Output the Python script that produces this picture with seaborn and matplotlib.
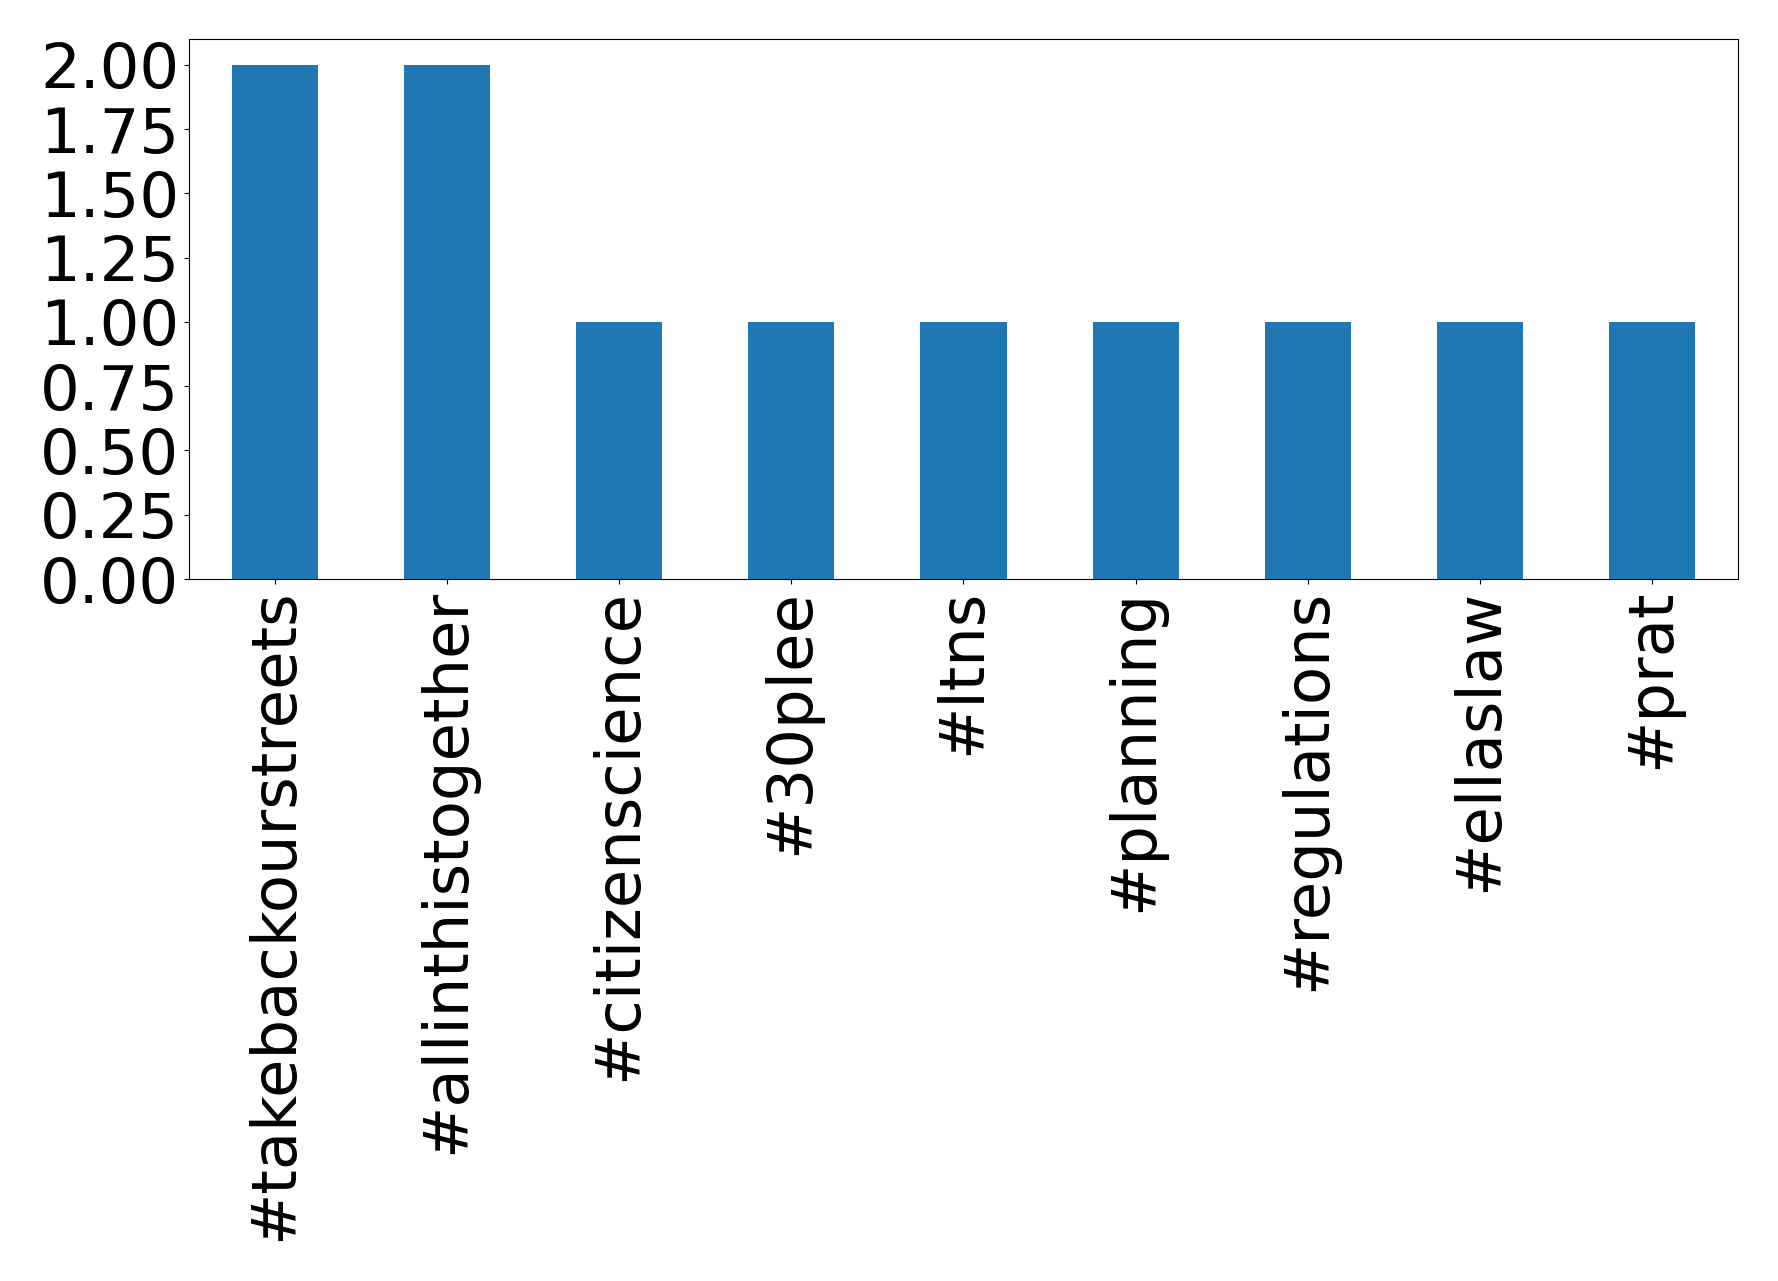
import pandas as pd
import seaborn as sns
import matplotlib.pyplot as plt

# %% data
hashtags = ['#takebackourstreets', '#allinthistogether', '#citizenscience', '#30plee',
            '#ltns', '#planning', '#regulations', '#ellaslaw', '#prat']
counts = [2, 2, 1, 1, 1, 1, 1, 1, 1]

df = pd.DataFrame({'hashtag': hashtags, 'count': counts})

# %% plot
fig = plt.figure(figsize=(17.78, 12.81), dpi=100)
ax = fig.add_axes([0.1063, 0.548, 0.8712, 0.4215])
sns.barplot(x='hashtag', y='count', data=df, color='#1f77b4', saturation=1,
            width=0.5, ax=ax)
ax.set_xlim(-0.5, 8.5)
ax.set_ylim(0, 2.1)
ax.set_yticks([0, 0.25, 0.5, 0.75, 1.0, 1.25, 1.5, 1.75, 2.0])
ax.set_yticklabels([f'{v:.2f}' for v in ax.get_yticks()])
ax.tick_params(axis='both', labelsize=45)
plt.setp(ax.get_xticklabels(), rotation=90)
ax.set_xlabel('')
ax.set_ylabel('')
fig.savefig('out.png', dpi=100)
